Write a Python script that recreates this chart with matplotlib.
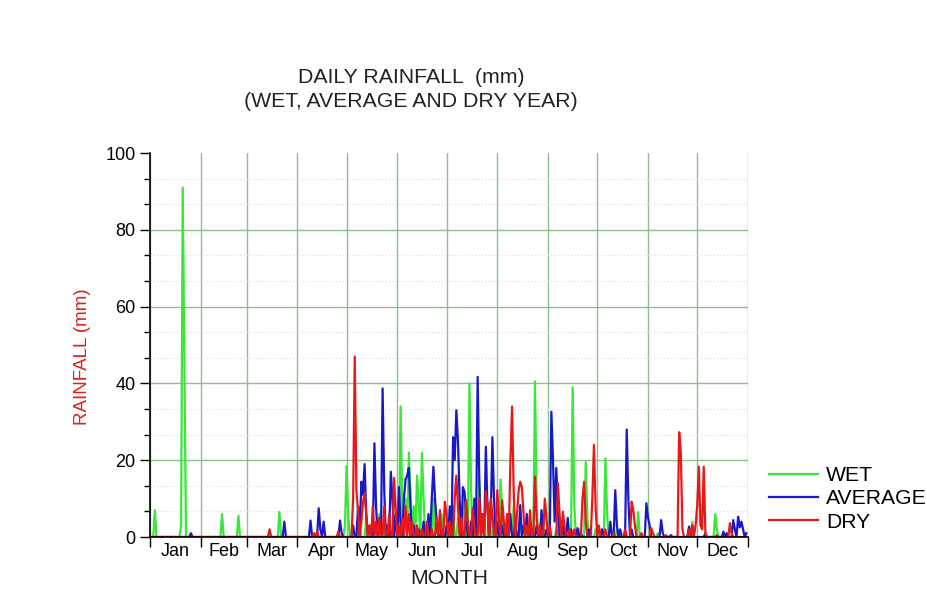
import numpy as np
import matplotlib
matplotlib.use('Agg')
import matplotlib.pyplot as plt
from matplotlib.ticker import AutoMinorLocator

plt.rcParams['font.family'] = ['Liberation Sans', 'DejaVu Sans']

months = ['Jan', 'Feb', 'Mar', 'Apr', 'May', 'Jun', 'Jul', 'Aug', 'Sep', 'Oct', 'Nov', 'Dec']
month_days = [31, 28, 31, 30, 31, 30, 31, 31, 30, 31, 30, 31]

# rainy days (day of year, 0 = 1 Jan) and rainfall in mm, all other days dry
wet_days = [3, 19, 20, 21, 44, 54, 79, 119, 120, 121, 128, 132, 136, 140, 144, 150, 153, 154,
            156, 158, 159, 161, 163, 164, 166, 167, 170, 173, 175, 178, 182, 185, 188, 192,
            195, 196, 199, 201, 203, 207, 210, 214, 215, 218, 222, 226, 230, 235, 236, 240,
            248, 252, 258, 259, 262, 266, 267, 272, 278, 279, 285, 298, 310, 331, 345, 346]
wet_mm = [7, 3, 91, 45, 6, 5.5, 6.5, 3, 18.5, 6, 3, 5, 4, 6, 3, 5, 34, 8,
          10, 22, 12, 8, 16, 9, 22, 10, 4, 10, 4, 6, 3, 8, 5, 10,
          40, 12, 8, 15, 6, 9, 5, 15, 6, 4, 8, 5, 3, 40.5, 8, 3,
          2, 3, 39, 8, 2, 19.5, 5, 2, 20.5, 6, 2, 6.5, 1, 4, 6, 2]

avg_days = [25, 82, 98, 103, 104, 106, 116, 117, 124, 127, 129, 130, 131, 132, 134, 137, 138,
            140, 142, 143, 145, 147, 148, 150, 152, 153, 155, 156, 157, 158, 159, 161, 164,
            167, 170, 172, 173, 174, 175, 178, 181, 183, 185, 186, 187, 188, 189, 191, 192,
            193, 196, 198, 200, 201, 203, 205, 206, 208, 209, 210, 212, 215, 218, 220, 223,
            226, 228, 230, 232, 236, 239, 242, 245, 246, 247, 248, 249, 252, 255, 257, 261,
            263, 268, 276, 281, 284, 285, 287, 291, 292, 294, 303, 304, 305, 312, 313, 318,
            329, 331, 339, 350, 352, 356, 357, 359, 360, 361, 362, 364]
avg_mm = [1, 4, 4.3, 7.5, 2, 4, 4.3, 1, 3, 8, 14.4, 11, 19, 6, 3, 24.4, 8,
          4, 38.7, 12, 3, 17, 10, 6, 13, 4, 10, 15, 16, 18, 8, 3, 2,
          4, 6, 10, 18.3, 10, 4, 2, 3, 8, 26, 20, 33, 25, 10, 13, 11.8,
          6, 4, 10, 41.7, 15, 6, 23.5, 8, 5, 26, 10, 4, 3, 5, 6, 4,
          8.3, 3, 6, 2, 3, 7, 2, 32.6, 20, 4, 18, 8, 3, 5, 2, 2.3,
          1, 2, 2, 4, 12.2, 3, 2, 28, 10, 2, 8.8, 5, 3, 4.4, 1, 0.5,
          2.7, 3, 1, 1.4, 1, 4.4, 2, 5.3, 2.5, 4, 2, 1]

dry_days = [73, 100, 102, 115, 124, 125, 126, 127, 129, 130, 131, 132, 134, 136, 138, 140,
            143, 146, 149, 150, 152, 154, 156, 158, 160, 163, 166, 169, 172, 175, 177, 180,
            181, 183, 186, 187, 188, 190, 193, 194, 197, 198, 201, 203, 205, 206, 208, 209,
            212, 213, 215, 216, 218, 220, 221, 222, 224, 225, 226, 227, 228, 230, 232, 235,
            236, 238, 241, 242, 244, 249, 250, 252, 253, 256, 259, 264, 265, 266, 270, 271,
            272, 274, 278, 283, 290, 294, 295, 296, 300, 306, 307, 315, 323, 324, 325, 329,
            331, 333, 334, 335, 336, 337, 338, 339, 346, 354, 355]
dry_mm = [2, 1, 1.5, 1.5, 10, 47, 12, 7, 4, 9, 11.4, 6, 3, 8, 4, 5,
          8, 6, 15.4, 7, 3, 5, 8, 6, 4, 3, 2, 4, 2, 5, 7, 9.2,
          6, 4, 10, 16, 8, 5, 9.6, 4, 7.5, 3, 10, 6, 12, 8, 10, 6,
          12.2, 5, 9.6, 4, 6, 20, 34, 12, 6, 12, 14.4, 13, 6, 3, 7, 15.7,
          5, 3, 10, 5, 3, 14, 6, 6.6, 3, 2, 2, 10, 14.4, 4, 10, 24,
          8, 3, 2, 1, 2, 9.2, 7, 3, 1, 2.3, 1, 0.5, 27.3, 22, 2, 2,
          3, 3, 8, 18.3, 3, 2, 18.3, 1, 0.5, 3.6, 1]

wet = np.zeros(365)
wet[wet_days] = wet_mm
avg = np.zeros(365)
avg[avg_days] = avg_mm
dry = np.zeros(365)
dry[dry_days] = dry_mm
day = np.arange(365)

edges = np.concatenate([[0], np.cumsum(month_days)])
centers = (edges[:-1] + edges[1:]) / 2

fig = plt.figure(figsize=(9.28, 5.9), dpi=100)
ax = fig.add_axes([0.1616, 0.0898, 0.6444, 0.6508])

ax.plot(day, wet, color='#3ae63a', lw=1.6, label='WET')
ax.plot(day, avg, color='#1818c8', lw=1.6, label='AVERAGE')
ax.plot(day, dry, color='#e81818', lw=1.6, label='DRY')

ax.set_xlim(0, 365)
ax.set_ylim(0, 100)

# month boundaries as major ticks (grid), month names on minor ticks
ax.set_xticks(edges)
ax.set_xticklabels([])
ax.set_xticks(centers, minor=True)
ax.set_xticklabels(months, minor=True, fontsize=13)
ax.tick_params(axis='x', which='major', direction='out', length=7, width=1)
ax.tick_params(axis='x', which='minor', length=0, pad=4)

ax.set_yticks(np.arange(0, 101, 20))
ax.yaxis.set_minor_locator(AutoMinorLocator(3))
ax.tick_params(axis='y', which='major', direction='out', length=7, width=1, labelsize=13)
ax.tick_params(axis='y', which='minor', direction='out', length=4, width=1)

ax.grid(True, which='major', color='#8cc08c', lw=1)
ax.grid(True, which='minor', axis='y', color='#e4dede', lw=0.9, ls=':')
ygl = ax.get_ygridlines()
ygl[0].set_visible(False)
ygl[-1].set_visible(False)
ax.set_axisbelow(True)

ax.spines['top'].set_visible(False)
ax.spines['right'].set_visible(False)
ax.spines['left'].set_linewidth(1.2)
ax.spines['bottom'].set_linewidth(1.2)

fig.text(0.443, 0.849, 'DAILY RAINFALL  (mm)\n(WET, AVERAGE AND DRY YEAR)',
         ha='center', va='center', multialignment='center', fontsize=15.3,
         linespacing=1.33, color='#222222')
fig.text(0.089, 0.395, 'RAINFALL (mm)', rotation=90, ha='center', va='center',
         fontsize=13.5, color='#e02020')
fig.text(0.484, 0.020, 'MONTH', ha='center', va='center', fontsize=15.3, color='#222222')

ax.legend(loc='upper left', bbox_to_anchor=(0.829, 0.210), bbox_transform=fig.transFigure,
          frameon=False, fontsize=15.2, handlelength=2.3, handletextpad=0.4,
          labelspacing=0.2, borderpad=0, borderaxespad=0)

fig.savefig('out.png', dpi=100)
